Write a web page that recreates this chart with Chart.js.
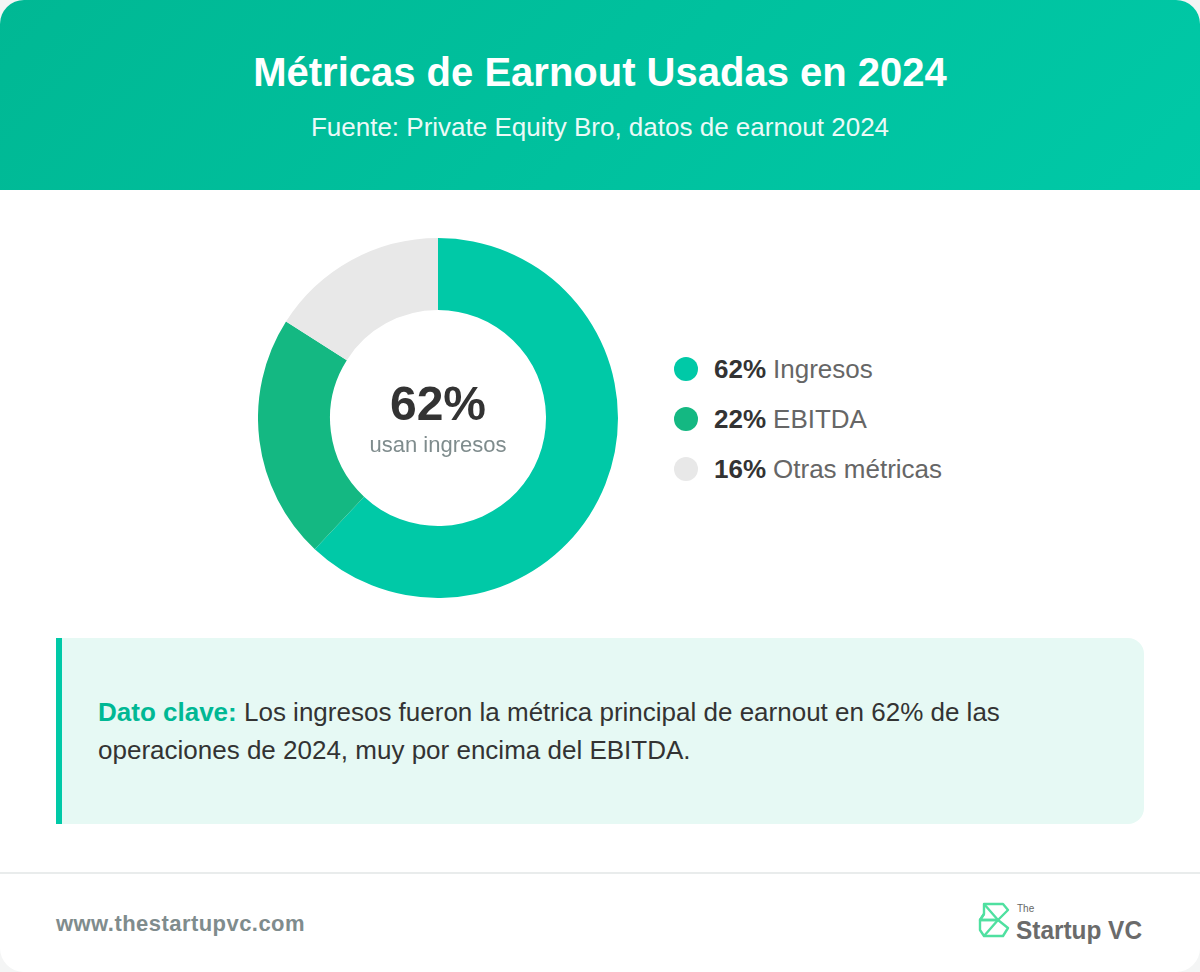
<!DOCTYPE html>
<html lang="es">
<head>
<meta charset="utf-8">
<title>Métricas de Earnout Usadas en 2024</title>
<script src="https://cdn.jsdelivr.net/npm/chart.js@4.4.1/dist/chart.umd.min.js"></script>
<style>
  * { box-sizing: border-box; margin: 0; padding: 0; }
  body {
    width: 1200px; height: 972px;
    background: #f4f5f5;
    font-family: "Liberation Sans", Arial, Helvetica, sans-serif;
  }
  .card {
    position: absolute; left: 0; top: 0;
    width: 1200px; height: 972px;
    background: #fff;
    border-radius: 24px;
    overflow: hidden;
  }
  .header {
    height: 190px;
    background: linear-gradient(135deg, #00b894 0%, #00c9a7 100%);
    text-align: center;
    color: #fff;
  }
  .header h1 {
    position: absolute; left: 0; right: 0; top: 50px;
    font-size: 40px; font-weight: bold; line-height: 44px;
  }
  .header p {
    position: absolute; left: 0; right: 0; top: 112px;
    font-size: 26px; line-height: 30px; opacity: 0.92;
  }
  .chart-box {
    position: absolute; left: 258px; top: 238px;
    width: 360px; height: 360px;
  }
  .center-label {
    position: absolute; left: 258px; top: 238px;
    width: 360px; height: 360px;
    text-align: center; pointer-events: none;
  }
  .center-label .big {
    position: absolute; left: 0; right: 0; top: 141px;
    font-size: 48px; font-weight: bold; color: #333; line-height: 50px;
  }
  .center-label .small {
    position: absolute; left: 0; right: 0; top: 194px;
    font-size: 22px; color: #7f8c8d; line-height: 26px;
  }
  #legend {
    position: absolute; left: 674px; top: 351px;
    list-style: none;
  }
  #legend li {
    height: 50px; display: flex; align-items: center;
    font-size: 26px; color: #666;
    position: relative; top: -7px;
  }
  #legend .dot {
    width: 24px; height: 24px; border-radius: 50%;
    margin-right: 16px; flex: none;
  }
  #legend b { color: #333; margin-right: 7px; }
  .callout {
    position: absolute; left: 56px; top: 638px;
    width: 1088px; height: 186px;
    background: #e6f9f4;
    border-left: 6px solid #00c9a7;
    border-radius: 0 16px 16px 0;
    padding: 55px 120px 0 36px;
    font-size: 26px; line-height: 38px; color: #333;
  }
  .callout b { color: #00b894; }
  .footer {
    position: absolute; left: 0; top: 872px;
    width: 1200px; height: 100px;
    border-top: 2px solid #e9ecec;
  }
  .footer .url {
    position: absolute; left: 56px; top: 37px;
    font-size: 22px; font-weight: bold; color: #7f8c8d;
    letter-spacing: 0.45px;
  }
  .logo {
    position: absolute; left: 976px; top: 26px;
  }
</style>
</head>
<body>
<div class="card">
  <div class="header">
    <h1>Métricas de Earnout Usadas en 2024</h1>
    <p>Fuente: Private Equity Bro, datos de earnout 2024</p>
  </div>

  <div class="chart-box"><canvas id="earnoutChart" width="360" height="360"></canvas></div>
  <div class="center-label">
    <div class="big">62%</div>
    <div class="small">usan ingresos</div>
  </div>
  <ul id="legend"></ul>

  <div class="callout">
    <b>Dato clave:</b> Los ingresos fueron la métrica principal de earnout en 62% de las operaciones de 2024, muy por encima del EBITDA.
  </div>

  <div class="footer">
    <div class="url">www.thestartupvc.com</div>
    <svg class="logo" width="170" height="44" viewBox="0 0 170 44">
      <g fill="none" stroke="#4fe0a0" stroke-width="2.4" stroke-linejoin="round">
        <path d="M8 4 H27 L32 10 L22 20 H4 L8 14 Z"/>
        <path d="M4 20 H22 L32 28 L27 36 H8 L4 30 Z"/>
        <path d="M8 4 L22 20 M4 20 L8 14 M22 20 L8 36"/>
      </g>
      <text x="41" y="12" font-family="Liberation Sans, Arial, sans-serif" font-size="10" fill="#666">The</text>
      <text x="40" y="39" font-family="Liberation Sans, Arial, sans-serif" font-size="25" font-weight="bold" fill="#6b6b6b" textLength="126" lengthAdjust="spacingAndGlyphs">Startup VC</text>
    </svg>
  </div>
</div>

<script>
document.addEventListener('DOMContentLoaded', function() {
    const labels = ['Ingresos', 'EBITDA', 'Otras métricas'];
    const shares = [62, 22, 16];
    const colors = ['#00c9a7', '#14b882', '#e8e8e8'];

    // legend built from the same arrays
    const legend = document.getElementById('legend');
    labels.forEach(function(label, i) {
        const li = document.createElement('li');
        li.innerHTML = '<span class="dot" style="background:' + colors[i] + '"></span>' +
            '<b>' + shares[i] + '%</b>' + label;
        legend.appendChild(li);
    });

    const ctx = document.getElementById('earnoutChart').getContext('2d');
    const earnoutChart = new Chart(ctx, {
        type: 'doughnut',
        data: {
            labels: labels,
            datasets: [{
                data: shares,
                backgroundColor: colors,
                borderWidth: 0,
                hoverOffset: 0
            }]
        },
        options: {
            responsive: false,
            animation: false,
            cutout: '60%',
            layout: { padding: 0 },
            plugins: {
                legend: { display: false },
                tooltip: { enabled: false }
            }
        }
    });
});
</script>
</body>
</html>
